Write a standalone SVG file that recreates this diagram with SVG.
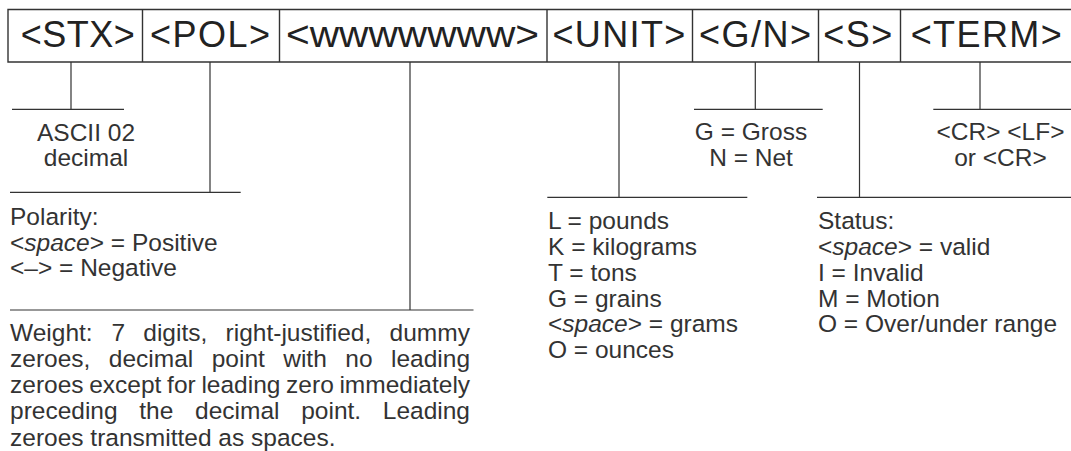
<svg xmlns="http://www.w3.org/2000/svg" width="1071" height="451" viewBox="0 0 1071 451">
<style>
  .frame { fill: none; stroke: #333; stroke-width: 1.4; }
  .conn { fill: none; stroke: #333; stroke-width: 1.2; }
  .hdr { font-family: "Liberation Sans", Arial, sans-serif; font-size: 36px; fill: #222; }
  .txt { font-family: "Liberation Sans", Arial, sans-serif; font-size: 24.5px; fill: #333; }
  .c { text-anchor: middle; }
  .it { font-style: italic; }
</style>
<rect width="1071" height="451" fill="#fff"/>
<g id="frame">
  <path class="frame" d="M1071 9.5 H8 V62 H1071"/>
  <path class="frame" d="M142.5 9.5 V62 M279.5 9.5 V62 M547 9.5 V62 M692.5 9.5 V62 M818.5 9.5 V62 M900.5 9.5 V62"/>
</g>
<g id="connectors">
  <path class="conn" d="M71 62 V109.3 M12 109.3 H124"/>
  <path class="conn" d="M210 62 V192.3 M10 192.3 H240.7"/>
  <path class="conn" d="M410 62 V310 M10 310 H473.5"/>
  <path class="conn" d="M619 62 V197.3 M547.3 197.3 H747.3"/>
  <path class="conn" d="M755.3 62 V109.3 M694 109.3 H822.7"/>
  <path class="conn" d="M859.5 62 V197.3 M817 197.3 H1071"/>
  <path class="conn" d="M980 62 V109.3 M933.3 109.3 H1071"/>
</g>
<g id="node-stx">
  <text class="hdr" x="20.7" y="47" textLength="114" lengthAdjust="spacing">&lt;STX&gt;</text>
  <text class="txt c" x="86" y="140.7">ASCII 02</text>
  <text class="txt c" x="86" y="165.7">decimal</text>
</g>
<g id="node-pol">
  <text class="hdr" x="150" y="47" textLength="120" lengthAdjust="spacing">&lt;POL&gt;</text>
  <text class="txt" x="10" y="225">Polarity:</text>
  <text class="txt" x="10" y="250.7">&lt;<tspan class="it">space</tspan>&gt; = Positive</text>
  <text class="txt" x="10" y="276.4">&lt;–&gt; = Negative</text>
</g>
<g id="node-weight">
  <text class="hdr" x="286" y="47" textLength="253" lengthAdjust="spacingAndGlyphs">&lt;wwwwwww&gt;</text>
  <text class="txt" y="340.5"><tspan x="10">Weight:</tspan><tspan x="111.4">7</tspan><tspan x="143.3">digits,</tspan><tspan x="225.6">right-justified,</tspan><tspan x="389.6">dummy</tspan></text>
  <text class="txt" y="366.75"><tspan x="10">zeroes,</tspan><tspan x="108.8">decimal</tspan><tspan x="211.7">point</tspan><tspan x="283.2">with</tspan><tspan x="345.3">no</tspan><tspan x="391">leading</tspan></text>
  <text class="txt" y="393"><tspan x="10">zeroes</tspan><tspan x="89.2">except</tspan><tspan x="167.1">for</tspan><tspan x="201.4">leading</tspan><tspan x="286.1">zero</tspan><tspan x="339.4">immediately</tspan></text>
  <text class="txt" y="419.25"><tspan x="10">preceding</tspan><tspan x="139.3">the</tspan><tspan x="195.1">decimal</tspan><tspan x="301.2">point.</tspan><tspan x="382.8">Leading</tspan></text>
  <text class="txt" x="10" y="445.5">zeroes transmitted as spaces.</text>
</g>
<g id="node-unit">
  <text class="hdr" x="552.4" y="47" textLength="133" lengthAdjust="spacing">&lt;UNIT&gt;</text>
  <text class="txt" x="548" y="229.2">L = pounds</text>
  <text class="txt" x="548" y="255">K = kilograms</text>
  <text class="txt" x="548" y="280.8">T = tons</text>
  <text class="txt" x="548" y="306.6">G = grains</text>
  <text class="txt" x="548" y="332.4">&lt;<tspan class="it">space</tspan>&gt; = grams</text>
  <text class="txt" x="548" y="358.2">O = ounces</text>
</g>
<g id="node-gn">
  <text class="hdr" x="699" y="47" textLength="112" lengthAdjust="spacing">&lt;G/N&gt;</text>
  <text class="txt c" x="751" y="140">G = Gross</text>
  <text class="txt c" x="751" y="166">N = Net</text>
</g>
<g id="node-s">
  <text class="hdr" x="823.3" y="47" textLength="69" lengthAdjust="spacing">&lt;S&gt;</text>
  <text class="txt" x="818" y="229.2">Status:</text>
  <text class="txt" x="818" y="255">&lt;<tspan class="it">space</tspan>&gt; = valid</text>
  <text class="txt" x="818" y="280.8">I = Invalid</text>
  <text class="txt" x="818" y="306.6">M = Motion</text>
  <text class="txt" x="818" y="332.4">O = Over/under range</text>
</g>
<g id="node-term">
  <text class="hdr" x="910.7" y="47" textLength="151" lengthAdjust="spacing">&lt;TERM&gt;</text>
  <text class="txt c" x="1000.5" y="140">&lt;CR&gt; &lt;LF&gt;</text>
  <text class="txt c" x="1000.5" y="165.7">or &lt;CR&gt;</text>
</g>
</svg>
